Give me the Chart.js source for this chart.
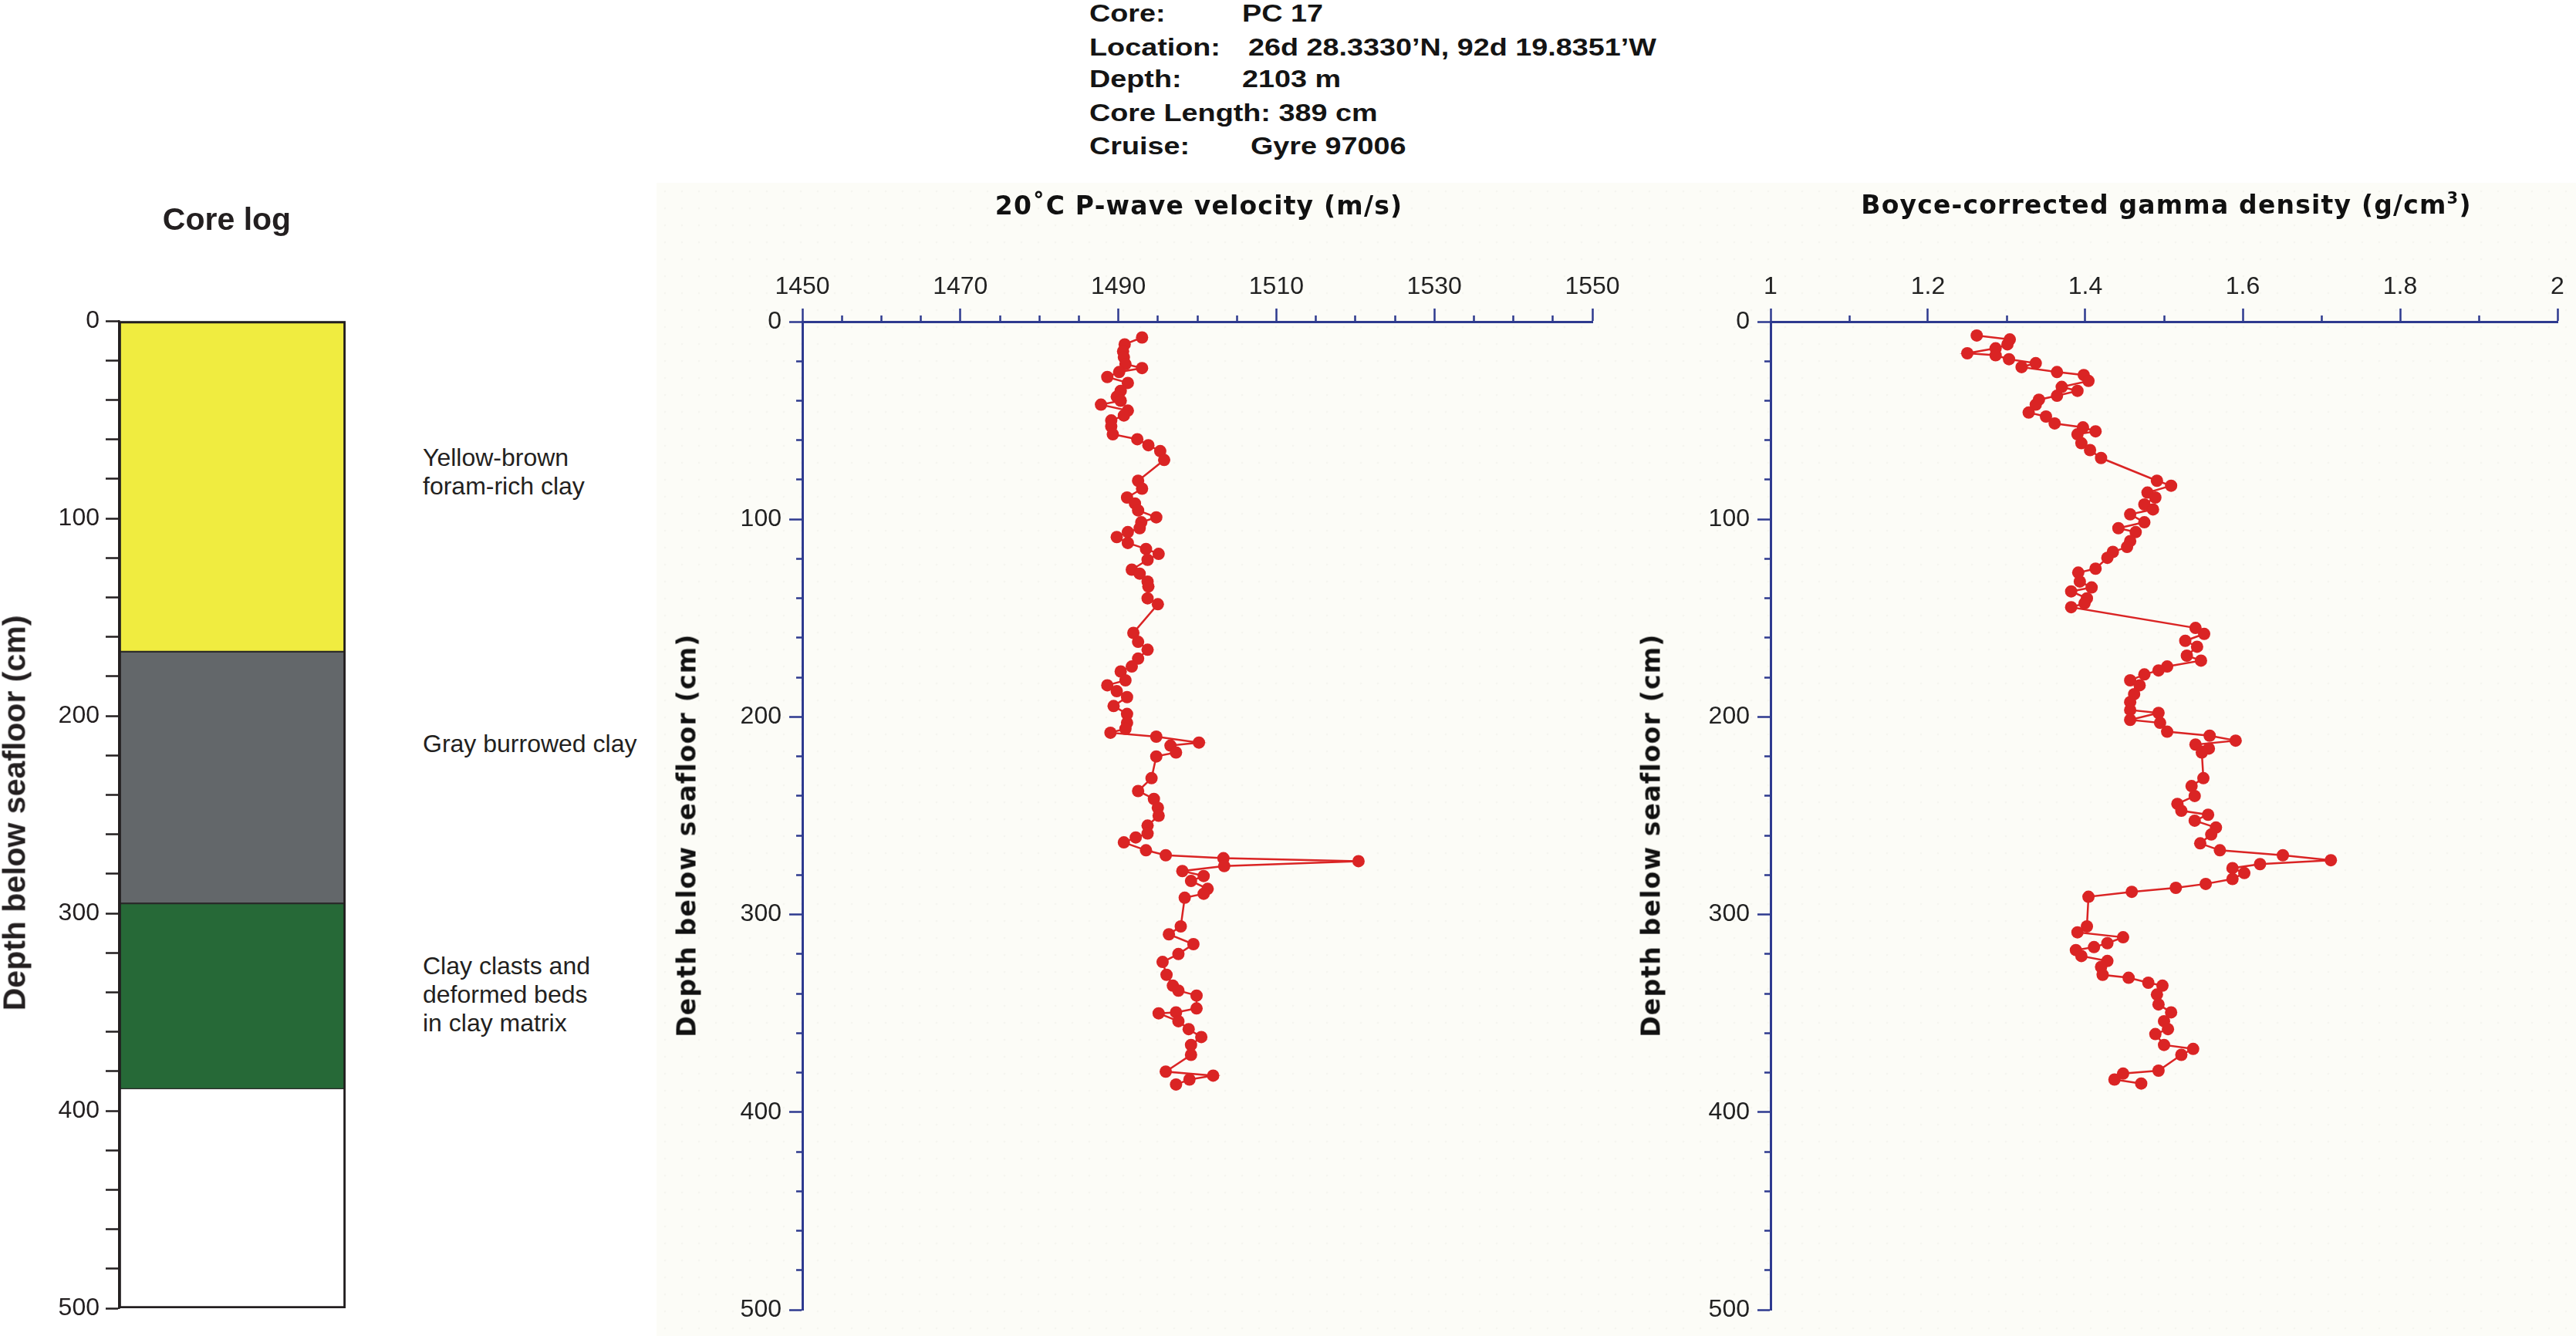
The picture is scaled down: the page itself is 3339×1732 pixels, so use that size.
<!DOCTYPE html>
<html>
<head>
<meta charset="utf-8">
<title>Core PC 17</title>
<script src="https://cdn.jsdelivr.net/npm/chart.js@4.4.1/dist/chart.umd.min.js"></script>
<style>
  html, body { margin: 0; padding: 0; background: #ffffff; }
  #page { position: relative; width: 3339px; height: 1732px; overflow: hidden; background: #fff;
    font-family: "Liberation Sans", Arial, sans-serif; color: #231f20; }
  .panel { position: absolute; left: 851px; top: 237px; width: 2488px; height: 1495px; background-color: #fcfcf7;
    background-image: radial-gradient(circle, rgba(160,160,140,0.07) 1.2px, transparent 1.7px);
    background-size: 22px 22px; }
  canvas { position: absolute; }
  .txt { position: absolute; white-space: nowrap; }
  .hdr { font-weight: bold; font-size: 32px; line-height: 32px; transform: scaleX(1.18); transform-origin: 0 0; color: #141414; }
  .desc { font-size: 32px; line-height: 37px; }
  .ptitle { font-family: "DejaVu Sans", sans-serif; font-weight: bold; font-size: 33px; line-height: 33px;
    letter-spacing: 1.2px; color: #111; transform: translateX(-50%); }
  .vtitle { transform: translate(-50%, -50%) rotate(-90deg); }
</style>
</head>
<body>
<div id="page">
  <div class="panel"></div>

  <canvas id="coreChart" width="520" height="1502" style="left:0px;top:230px;"></canvas>
  <canvas id="pwaveChart" width="1290" height="1502" style="left:850px;top:230px;"></canvas>
  <canvas id="densityChart" width="1239" height="1502" style="left:2100px;top:230px;"></canvas>

  <!-- core header -->
  <div class="txt hdr" style="left:1412px;top:1px;">Core:</div>
  <div class="txt hdr" style="left:1610px;top:1px;">PC 17</div>
  <div class="txt hdr" style="left:1412px;top:45px;">Location:</div>
  <div class="txt hdr" style="left:1618px;top:45px;">26d 28.3330’N, 92d 19.8351’W</div>
  <div class="txt hdr" style="left:1412px;top:86px;">Depth:</div>
  <div class="txt hdr" style="left:1610px;top:86px;">2103 m</div>
  <div class="txt hdr" style="left:1412px;top:130px;">Core Length: 389 cm</div>
  <div class="txt hdr" style="left:1412px;top:173px;">Cruise:</div>
  <div class="txt hdr" style="left:1621px;top:173px;">Gyre 97006</div>

  <!-- core log labels -->
  <div class="txt" style="left:294px;top:264px;transform:translateX(-50%);font-weight:bold;font-size:41px;line-height:41px;">Core log</div>
  <div class="txt vtitle" style="left:19px;top:1054px;font-weight:bold;font-size:41px;line-height:41px;">Depth below seafloor (cm)</div>
  <div class="txt desc" style="left:548px;top:575px;">Yellow-brown<br>foram-rich clay</div>
  <div class="txt desc" style="left:548px;top:946px;">Gray burrowed clay</div>
  <div class="txt desc" style="left:548px;top:1234px;">Clay clasts and<br>deformed beds<br>in clay matrix</div>

  <!-- profile titles -->
  <div class="txt ptitle" style="left:1554px;top:250px;">20˚C P-wave velocity (m/s)</div>
  <div class="txt ptitle" style="left:2808px;top:249px;">Boyce-corrected gamma density (g/cm<span style="font-size:21px;position:relative;top:-13px;">3</span>)</div>
  <div class="txt ptitle vtitle" style="left:890px;top:1083px;">Depth below seafloor (cm)</div>
  <div class="txt ptitle vtitle" style="left:2140px;top:1083px;">Depth below seafloor (cm)</div>
</div>

<script>
// Lithology of the core log (depth in cm)
const lithoNames = ['Yellow-brown foram-rich clay', 'Gray burrowed clay', 'Clay clasts and deformed beds in clay matrix'];
const lithoTop = [0, 167.5, 295];
const lithoBottom = [167.5, 295, 389];
const lithoColors = ['#f0ec40', '#63676a', '#266937'];

// Axis tick labels
const depthTicks = [0, 100, 200, 300, 400, 500];
const velocityTicks = [1450, 1470, 1490, 1510, 1530, 1550];
const densityTicks = [1, 1.2, 1.4, 1.6, 1.8, 2];

// 20C P-wave velocity profile (m/s) vs depth (cm)
const pwaveDepth = [
  8, 11.5, 15, 18, 21.5, 23.5, 25.5, 28, 31, 35, 38, 40, 42, 45, 47.5, 50, 53, 57, 59.5, 62.5,
  65.5, 70, 80.5, 84.5, 89, 92, 95.5, 99, 101.5, 104.5, 106.5, 109, 112, 115, 117.5, 120.5, 125.5, 127.5, 131.5, 134,
  140, 143, 157.5, 162, 166, 170.5, 174.5, 177, 181.5, 184, 187, 190, 194.5, 198.5, 203, 206, 208, 210, 213, 214.5,
  218, 220, 231, 237.5, 241.5, 246, 250, 255, 259, 261, 263.5, 267.5, 270, 271.5, 273, 275.5, 278, 280.5, 283, 287,
  289.5, 291.5, 306, 310, 315, 320, 324, 330.5, 336, 338.5, 341, 347.5, 349.5, 350, 354, 358, 362, 366, 371, 379.5,
  381.5, 383.5, 386
];
const pwaveVelocity = [
  1493.0, 1490.8, 1490.6, 1490.7, 1490.9, 1493.0, 1490.1, 1488.6, 1491.2, 1490.3, 1489.8, 1490.3, 1487.8, 1491.2, 1490.7, 1489.1, 1489.1, 1489.3, 1492.4, 1493.8,
  1495.3, 1495.8, 1492.5, 1493.0, 1491.1, 1492.1, 1492.5, 1494.8, 1492.9, 1492.7, 1491.2, 1489.8, 1491.2, 1493.5, 1495.1, 1493.7, 1491.7, 1492.7, 1493.7, 1493.8,
  1493.7, 1495.0, 1491.9, 1492.5, 1493.7, 1492.5, 1491.7, 1490.3, 1490.9, 1488.6, 1489.8, 1491.1, 1489.4, 1491.1, 1491.1, 1490.9, 1489.0, 1494.8, 1500.2, 1496.6,
  1497.3, 1494.8, 1494.2, 1492.5, 1494.5, 1495.0, 1495.1, 1493.7, 1493.7, 1492.2, 1490.7, 1493.5, 1496.0, 1503.3, 1520.4, 1503.4, 1498.1, 1500.8, 1499.2, 1501.3,
  1500.8, 1498.4, 1497.9, 1496.4, 1499.5, 1497.6, 1495.6, 1496.1, 1496.9, 1497.6, 1499.9, 1499.9, 1497.3, 1495.1, 1497.6, 1498.9, 1500.5, 1499.2, 1499.2, 1496.0,
  1502.0, 1499.0, 1497.3
];

// Boyce-corrected gamma density profile (g/cm3) vs depth (cm)
const densityDepth = [
  7, 9, 11.5, 13.5, 16, 17, 19, 21, 23, 25.5, 27, 30, 33, 35, 37.5, 39.5, 42, 46, 48, 51.5,
  53.5, 55.5, 57, 61.5, 65, 69, 80.5, 83, 86.5, 89, 92.5, 95, 97.5, 101.5, 104.5, 106.5, 111, 114, 116.5, 119.5,
  125, 127, 131.5, 134.5, 136.5, 140, 142.5, 144.5, 155, 158, 161.5, 164.5, 169, 171.5, 174.5, 176.5, 178.5, 181.5, 184, 188.5,
  192.5, 196.5, 198, 201.5, 203, 207.5, 209.5, 212, 214, 216, 218, 231, 235, 240, 244, 247.5, 249.5, 252.5, 256, 259.5,
  264, 267.5, 270, 272.5, 274.5, 276.5, 279, 282, 284.5, 286.5, 288.5, 291, 306, 309, 311.5, 314.5, 316.5, 318, 321, 323.5,
  326.5, 330.5, 332, 334.5, 336, 340.5, 345.5, 349.5, 354, 358, 360.5, 366, 368, 371, 379, 380.5, 383.5, 385.5
];
const densityValue = [
  1.262, 1.304, 1.301, 1.286, 1.250, 1.286, 1.303, 1.337, 1.319, 1.364, 1.398, 1.404, 1.370, 1.390, 1.364, 1.341, 1.337, 1.328, 1.350, 1.361,
  1.397, 1.413, 1.390, 1.395, 1.406, 1.420, 1.491, 1.509, 1.479, 1.489, 1.475, 1.486, 1.457, 1.475, 1.442, 1.464, 1.457, 1.453, 1.435, 1.428,
  1.413, 1.391, 1.393, 1.408, 1.382, 1.402, 1.399, 1.382, 1.540, 1.551, 1.527, 1.542, 1.529, 1.547, 1.504, 1.493, 1.475, 1.457, 1.469, 1.462,
  1.457, 1.457, 1.493, 1.457, 1.495, 1.504, 1.558, 1.591, 1.540, 1.557, 1.548, 1.550, 1.535, 1.539, 1.517, 1.522, 1.556, 1.539, 1.566, 1.560,
  1.546, 1.571, 1.651, 1.712, 1.622, 1.587, 1.602, 1.587, 1.553, 1.515, 1.459, 1.404, 1.402, 1.390, 1.448, 1.428, 1.411, 1.388, 1.395, 1.428,
  1.420, 1.422, 1.455, 1.480, 1.498, 1.491, 1.493, 1.509, 1.500, 1.505, 1.489, 1.500, 1.537, 1.522, 1.493, 1.448, 1.437, 1.471
];

const AXIS_BLUE = '#2e3a8f';
const MARK_RED = '#da2424';
const TEXT_DARK = '#222222';

Chart.defaults.animation = false;
Chart.defaults.font.family = '"Liberation Sans", Arial, sans-serif';
Chart.defaults.plugins.legend.display = false;
Chart.defaults.plugins.tooltip.enabled = false;

const isTick = (list, v) => list.some(t => Math.abs(t - v) < 1e-6);

// Core log: floating bars on a reversed depth scale
const layerSets = lithoNames.map((name, i) => ({
  label: name,
  data: [[lithoTop[i], lithoBottom[i]]],
  backgroundColor: lithoColors[i],
  borderColor: '#2b2b2b',
  borderWidth: 1.5,
  borderSkipped: false,
  grouped: false,
  barPercentage: 1,
  categoryPercentage: 1
}));

new Chart(document.getElementById('coreChart'), {
  type: 'bar',
  data: {
    labels: ['core'],
    datasets: [{
      label: 'outline',
      data: [[0, 500]],
      backgroundColor: 'rgba(0,0,0,0)',
      borderColor: '#231f20',
      borderWidth: 2.5,
      borderSkipped: false,
      grouped: false,
      barPercentage: 1,
      categoryPercentage: 1
    }].concat(layerSets)
  },
  options: {
    responsive: false,
    layout: { padding: { top: 186, bottom: 36, right: 72, left: 0 } },
    scales: {
      x: { display: false },
      y: {
        min: 0, max: 500, reverse: true,
        afterFit: s => { s.width = 154; },
        ticks: {
          stepSize: 20, autoSkip: false, padding: 8, color: '#231f20',
          font: { size: 32 },
          callback: v => isTick(depthTicks, v) ? v : ''
        },
        grid: { drawOnChartArea: false, tickLength: 17, tickWidth: 2.5, tickColor: '#231f20' },
        border: { color: '#231f20', width: 2.5 }
      }
    }
  }
});

// minor ticks: hide the outer part of the tick line so it shows at about half length
const minorDash = labels => ctx => (ctx.tick && !isTick(labels, ctx.tick.value)) ? [0, 9, 30, 0] : [];

// Shared setup for the two property profiles
function profileChart(canvasId, xs, ys, xMin, xMax, xStep, xLabels, yAxisWidth, rightPad) {
  return new Chart(document.getElementById(canvasId), {
    type: 'scatter',
    data: {
      datasets: [{
        data: xs.map((x, i) => ({ x: x, y: ys[i] })),
        showLine: true,
        borderColor: MARK_RED,
        borderWidth: 2.5,
        pointRadius: 8,
        pointBackgroundColor: MARK_RED,
        pointBorderWidth: 0
      }]
    },
    options: {
      responsive: false,
      layout: { padding: { top: 0, bottom: 34, right: rightPad, left: 0 } },
      scales: {
        x: {
          type: 'linear', position: 'top', min: xMin, max: xMax,
          afterFit: s => { s.height = 187; },
          ticks: {
            stepSize: xStep, autoSkip: false, maxRotation: 0, padding: 9, color: TEXT_DARK,
            font: { size: 32 },
            callback: v => isTick(xLabels, v) ? String(v) : ''
          },
          grid: { drawOnChartArea: false, tickLength: 17, tickWidth: 2.5, tickColor: AXIS_BLUE,
                  tickBorderDash: minorDash(xLabels) },
          border: { color: AXIS_BLUE, width: 3 }
        },
        y: {
          type: 'linear', min: 0, max: 500, reverse: true,
          afterFit: s => { s.width = yAxisWidth; },
          ticks: {
            stepSize: 20, autoSkip: false, padding: 10, color: TEXT_DARK,
            font: { size: 32 },
            callback: v => isTick(depthTicks, v) ? v : ''
          },
          grid: { drawOnChartArea: false, tickLength: 17, tickWidth: 2.5, tickColor: AXIS_BLUE,
                  tickBorderDash: minorDash(depthTicks) },
          border: { color: AXIS_BLUE, width: 3 }
        }
      }
    }
  });
}

profileChart('pwaveChart', pwaveVelocity, pwaveDepth, 1450, 1550, 5, velocityTicks, 190, 76);
profileChart('densityChart', densityValue, densityDepth, 1, 2, 0.1, densityTicks, 195, 24);
</script>
</body>
</html>
